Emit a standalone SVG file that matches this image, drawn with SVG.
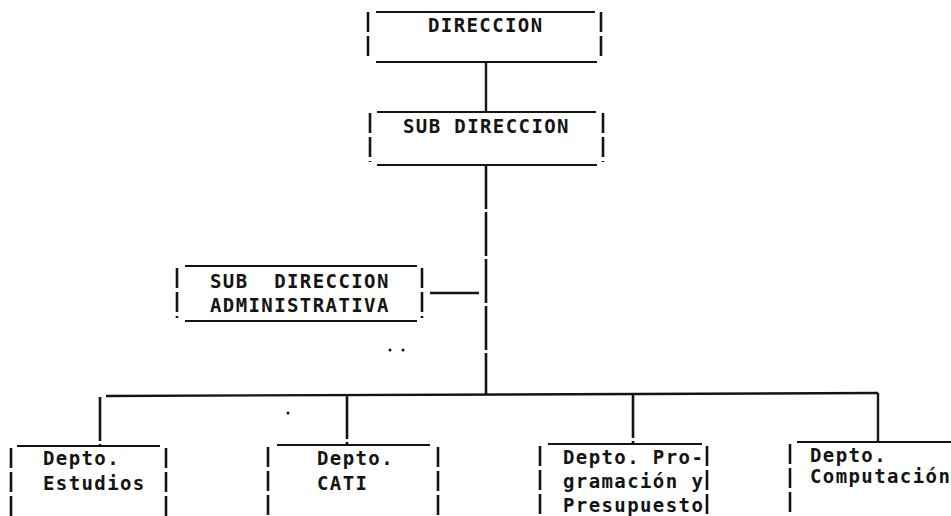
<svg xmlns="http://www.w3.org/2000/svg" width="951" height="516" viewBox="0 0 951 516">
<style>
  .bg{fill:#ffffff}
  .h{stroke:#141414;stroke-width:2.2;fill:none}
  .v{stroke:#141414;stroke-width:2.6;fill:none;stroke-dasharray:20 4}
  .c{stroke:#141414;stroke-width:2.4;fill:none}
  .cv{stroke:#141414;stroke-width:2.6;fill:none;stroke-dasharray:44 3}
  text{font-family:"DejaVu Sans Mono","Liberation Mono",monospace;font-weight:bold;font-size:19px;letter-spacing:1.4px;fill:#141414;white-space:pre}
  .dot{fill:#141414}
</style>
<rect class="bg" x="0" y="0" width="951" height="516"/>

<g id="connectors">
  <line class="c" x1="486" y1="62" x2="486" y2="112"/>
  <line class="cv" x1="486" y1="165" x2="486" y2="395"/>
  <line class="c" x1="430" y1="293" x2="479" y2="293"/>
  <line class="c" x1="106" y1="396" x2="878" y2="393"/>
  <line class="cv" x1="100" y1="397" x2="100" y2="445"/>
  <line class="cv" x1="347" y1="395" x2="347" y2="444"/>
  <line class="cv" x1="633" y1="394" x2="633" y2="443"/>
  <line class="c" x1="878" y1="393" x2="878" y2="442"/>
</g>

<g id="direccion">
  <line class="h" x1="376" y1="12" x2="595" y2="12"/>
  <line class="h" x1="376" y1="62" x2="597" y2="62"/>
  <line class="v" x1="368" y1="12" x2="368" y2="60"/>
  <line class="v" x1="601" y1="12" x2="601" y2="60"/>
  <text x="428" y="32">DIRECCION</text>
</g>

<g id="subdireccion">
  <line class="h" x1="377" y1="112" x2="596" y2="112"/>
  <line class="h" x1="377" y1="165" x2="597" y2="165"/>
  <line class="v" x1="370" y1="113" x2="370" y2="162"/>
  <line class="v" x1="603" y1="113" x2="603" y2="162"/>
  <text x="403" y="133">SUB DIRECCION</text>
</g>

<g id="subdireccion-administrativa">
  <line class="h" x1="185" y1="266" x2="417" y2="266"/>
  <line class="h" x1="185" y1="321" x2="417" y2="321"/>
  <line class="v" x1="177" y1="268" x2="177" y2="318"/>
  <line class="v" x1="422" y1="268" x2="422" y2="318"/>
  <text x="210" y="288">SUB  DIRECCION</text>
  <text x="210" y="312">ADMINISTRATIVA</text>
</g>

<g id="depto-estudios">
  <line class="h" x1="17" y1="446" x2="160" y2="446"/>
  <line class="v" x1="11" y1="448" x2="11" y2="516"/>
  <line class="v" x1="166" y1="448" x2="166" y2="516"/>
  <text x="43" y="465">Depto.</text>
  <text x="43" y="490">Estudios</text>
</g>

<g id="depto-cati">
  <line class="h" x1="277" y1="445" x2="430" y2="445"/>
  <line class="v" x1="268" y1="447" x2="268" y2="516"/>
  <line class="v" x1="438" y1="447" x2="438" y2="516"/>
  <text x="317" y="465">Depto.</text>
  <text x="317" y="490">CATI</text>
</g>

<g id="depto-programacion">
  <line class="h" x1="548" y1="444" x2="702" y2="444"/>
  <line class="v" x1="540" y1="446" x2="540" y2="516"/>
  <line class="v" x1="707" y1="446" x2="707" y2="516"/>
  <text x="563" y="464">Depto. Pro-</text>
  <text x="563" y="488">gramación y</text>
  <text x="563" y="512">Presupuesto</text>
</g>

<g id="depto-computacion">
  <line class="h" x1="797" y1="442" x2="951" y2="442"/>
  <line class="v" x1="790" y1="444" x2="790" y2="516"/>
  <text x="810" y="462">Depto.</text>
  <text x="810" y="483">Computación</text>
</g>

<g id="specks">
  <circle class="dot" cx="390" cy="350" r="1.5"/>
  <circle class="dot" cx="403" cy="350" r="1.5"/>
  <circle class="dot" cx="288" cy="413" r="1.5"/>
</g>
</svg>
